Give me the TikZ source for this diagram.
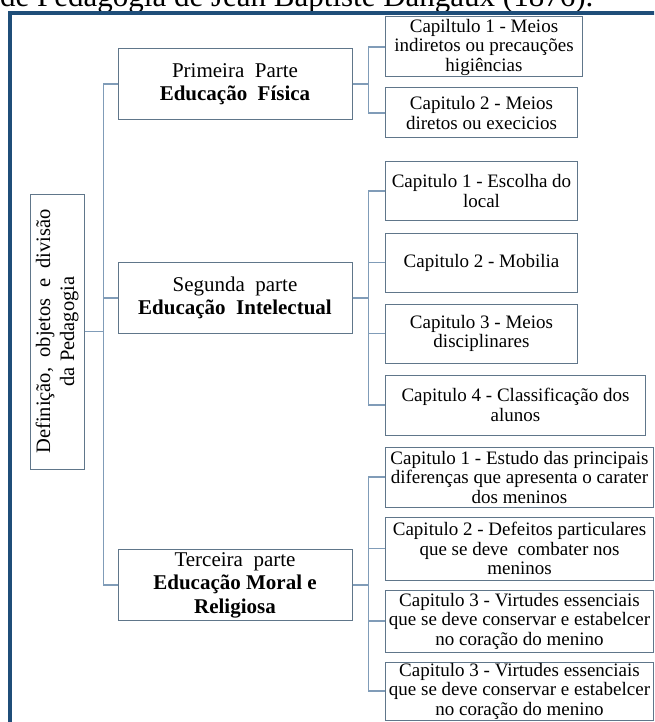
\documentclass[tikz,border=0pt]{standalone}
\usepackage{fontspec}
\setmainfont{Liberation Serif}
\usetikzlibrary{positioning}
\definecolor{framecol}{RGB}{31,78,121}
\definecolor{boxcol}{RGB}{96,118,138}
\definecolor{linkcol}{RGB}{128,156,184}

\begin{document}
\begin{tikzpicture}[x=1pt, y=-1pt,
  box/.style={draw=boxcol, fill=white, line width=1pt, align=center, inner sep=0pt},
  part/.style={box, minimum width=234pt, minimum height=71pt, font=\fontsize{21}{23.5}\selectfont},
  chap/.style={box, anchor=west, font=\fontsize{19}{19.5}\selectfont},
  link/.style={draw=linkcol, line width=1.5pt}]
\path[use as bounding box, clip] (0,0) rectangle (654,722);
\node[anchor=base west, inner sep=0pt, font=\fontsize{31}{31}\selectfont] (title) at (0,7) {de Pedagogia de Jean Baptiste Dangaux (1876).};
\draw[framecol, line width=4pt] (10,13.5) rectangle (700,780);

\node[box, rotate=90, minimum width=275pt, minimum height=54pt, font=\fontsize{20.5}{24}\selectfont] (root) at (57,331.5) {Definição,\ \ objetos\ \ e\ \ divisão\\da Pedagogia};

\node[part] (p1) at (235,84) {Primeira\ \ Parte\\\textbf{Educação\ \ Física}};
\node[part] (p2) at (235,298) {Segunda\ \ parte\\\textbf{Educação\ \ Intelectual}};
\node[part] (p3) at (235,585) {Terceira\ \ parte\\\textbf{Educação Moral e}\\\textbf{Religiosa}};

\node[chap, minimum width=197pt, minimum height=60pt] (c11) at (385,47) {Capiltulo 1 - Meios\\indiretos ou precauções\\higiências};
\node[chap, minimum width=192pt, minimum height=50pt] (c12) at (385,113) {Capitulo 2 - Meios\\diretos ou execicios};

\node[chap, minimum width=192pt, minimum height=58pt] (c21) at (385,191) {Capitulo 1 - Escolha do\\local};
\node[chap, minimum width=192pt, minimum height=59pt] (c22) at (385,262.5) {Capitulo 2 - Mobilia};
\node[chap, minimum width=192pt, minimum height=59pt] (c23) at (385,333.5) {Capitulo 3 - Meios\\disciplinares};
\node[chap, minimum width=260pt, minimum height=60pt] (c24) at (385,405) {Capitulo 4 - Classificação dos\\alunos};

\node[chap, minimum width=268pt, minimum height=60pt] (c31) at (385,477) {Capitulo 1 - Estudo das principais\\diferenças que apresenta o carater\\dos meninos};
\node[chap, minimum width=268pt, minimum height=63pt] (c32) at (385,548.5) {Capitulo 2 - Defeitos particulares\\que se deve\ \ combater nos\\meninos};
\node[chap, minimum width=268pt, minimum height=62pt] (c33) at (385,621) {Capitulo 3 - Virtudes essenciais\\que se deve conservar e estabelcer\\no coração do menino};
\node[chap, minimum width=268pt, minimum height=58pt] (c34) at (385,691) {Capitulo 3 - Virtudes essenciais\\que se deve conservar e estabelcer\\no coração do menino};

\foreach \p in {p1,p2,p3}
  \draw[link] (root.south) -- ++(19,0) |- (\p.west);
\foreach \c in {c11,c12}
  \draw[link] (p1.east) -- ++(16,0) |- (\c.west);
\foreach \c in {c21,c22,c23,c24}
  \draw[link] (p2.east) -- ++(16,0) |- (\c.west);
\foreach \c in {c31,c32,c33,c34}
  \draw[link] (p3.east) -- ++(16,0) |- (\c.west);
\end{tikzpicture}
\end{document}
